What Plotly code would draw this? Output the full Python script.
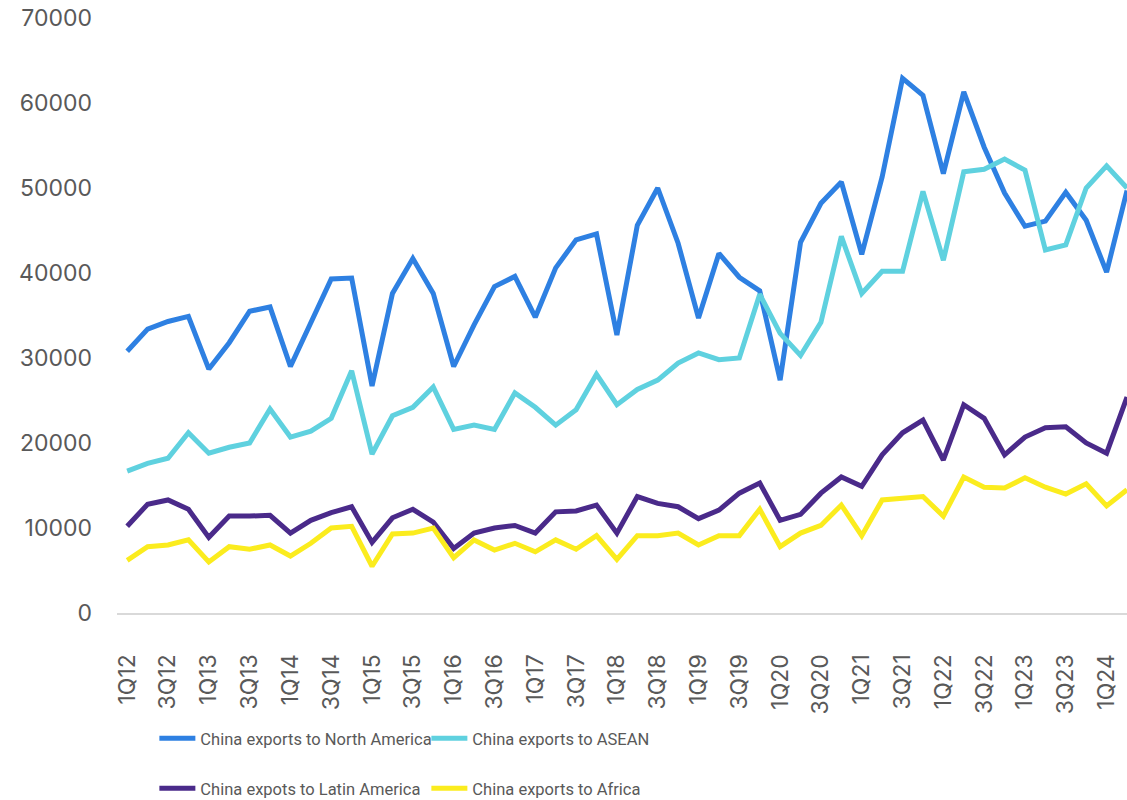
import plotly.graph_objects as go

# Quarter labels 1Q12 .. 2Q24
quarters = [f"{q}Q{y:02d}" for y in range(12, 25) for q in range(1, 5)][:50]

north_america = [30800, 33400, 34300, 34900, 28700, 31800, 35500, 36000,
                 29000, 34200, 39300, 39400, 26700, 37600, 41700, 37600,
                 29000, 33900, 38400, 39600, 34800, 40600, 43900, 44600,
                 32700, 45600, 50000, 43500, 34700, 42300, 39500, 37900,
                 27400, 43600, 48200, 50700, 42200, 51300, 62900, 60900,
                 51700, 61300, 54800, 49400, 45500, 46100, 49500, 46200,
                 40100, 49700]

asean = [16700, 17600, 18200, 21200, 18800, 19500, 20000, 24000,
         20700, 21400, 22900, 28500, 18700, 23200, 24200, 26600,
         21600, 22100, 21600, 25900, 24200, 22100, 23900, 28100,
         24500, 26300, 27400, 29400, 30600, 29800, 30000, 37500,
         32900, 30300, 34200, 44300, 37600, 40200, 40200, 49600,
         41500, 51900, 52200, 53400, 52100, 42700, 43300, 50000,
         52600, 50000]

latin_america = [10200, 12800, 13300, 12200, 8900, 11400, 11400, 11500,
                 9400, 10900, 11800, 12500, 8300, 11200, 12200, 10700,
                 7600, 9400, 10000, 10300, 9400, 11900, 12000, 12700,
                 9400, 13700, 12900, 12500, 11100, 12100, 14100, 15300,
                 10900, 11600, 14100, 16000, 14900, 18600, 21200, 22700,
                 18000, 24500, 22900, 18600, 20700, 21800, 21900, 20000,
                 18800, 25400]

africa = [6200, 7800, 8000, 8600, 6000, 7800, 7500, 8000,
          6700, 8200, 10000, 10200, 5500, 9300, 9400, 10000,
          6500, 8600, 7400, 8200, 7200, 8600, 7500, 9100,
          6300, 9100, 9100, 9400, 8000, 9100, 9100, 12200,
          7800, 9400, 10300, 12700, 9100, 13300, 13500, 13700,
          11400, 16000, 14800, 14700, 15900, 14800, 14000, 15200,
          12600, 14500]

series = [
    ("China exports to North America", north_america, "#2E80E2", "legend"),
    ("China exports to ASEAN", asean, "#5FD1DF", "legend"),
    ("China expots to Latin America", latin_america, "#4A2A8A", "legend2"),
    ("China exports to Africa", africa, "#FBEC1E", "legend2"),
]

GREY = "#595959"
TICK_FONT = dict(family="Inter, Roboto, sans-serif", size=23, color=GREY)
LEGEND_FONT = dict(family="Roboto, sans-serif", size=16.5, color=GREY)

fig = go.Figure()
for name, values, color, leg in series:
    fig.add_trace(go.Scatter(
        x=list(range(len(quarters))), y=values, name=name, mode="lines",
        line=dict(color=color, width=5), legend=leg,
    ))

legend_common = dict(orientation="h", x=0.037, xanchor="left", yanchor="top",
                     font=LEGEND_FONT, entrywidth=221, itemwidth=36,
                     bgcolor="rgba(0,0,0,0)")

fig.update_layout(
    width=1127, height=800,
    margin=dict(l=117, r=0, t=18, b=187, autoexpand=False),
    paper_bgcolor="white", plot_bgcolor="white",
    showlegend=True,
    legend=dict(y=-0.1815, **legend_common),
    legend2=dict(y=-0.2655, **legend_common),
)

fig.update_xaxes(
    range=[-0.5, 49], tickmode="array",
    tickvals=list(range(0, len(quarters), 2)),
    ticktext=quarters[::2], tickangle=-90,
    tickfont=TICK_FONT, ticks="", showgrid=False, zeroline=False,
    showline=True, linecolor="#D9D9D9", linewidth=2,
    ticklabelstandoff=30, automargin=False,
)
fig.update_yaxes(
    range=[0, 70000], tickvals=list(range(0, 70001, 10000)),
    tickformat="d", tickfont=TICK_FONT, ticks="",
    showgrid=False, zeroline=False, showline=False,
    ticklabelstandoff=24, automargin=False,
)

fig.write_html("out.html")
